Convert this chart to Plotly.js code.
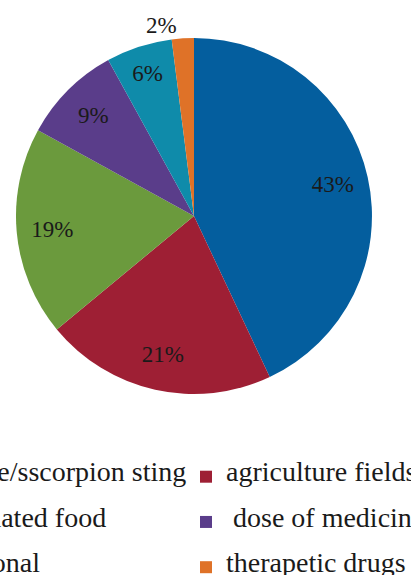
<!DOCTYPE html>
<html>
<head>
<meta charset="utf-8">
<script src="https://cdn.plot.ly/plotly-3.0.1.min.js"></script>
<style>
html, body { margin:0; padding:0; width:411px; height:575px; overflow:hidden; background:#fff; }
#chart { position:absolute; left:-150px; top:0; width:700px; height:575px; }
</style>
</head>
<body>
<div id="chart"></div>
<script>
var labels = ["snake bite/sscorpion sting", "agriculture fields", "contaminated food", "\u00a0dose of medicine", "occupational", "therapetic drugs"];
var values = [43, 21, 19, 9, 6, 2];
var colors = ["#045E9E", "#9E1F34", "#6B9A3D", "#5A3D8A", "#0F8BAA", "#DF7228"];
var textPositions = ["inside", "inside", "inside", "inside", "inside", "outside"];

var serif = "Liberation Serif, Times New Roman, serif";
var legendLabels = labels.map(function (s) {
  return '<span style="font-size:28px;baseline-shift:8px">' + s + '</span>';
});
var pieDomain = { x: [0.2371, 0.7457], y: [0.3148, 0.9339] };
var txtFont = { family: serif, size: 23, color: "#1a1a1a" };

// visible pie (slices + legend)
var pie = {
  type: "pie",
  labels: legendLabels,
  values: values,
  sort: false,
  direction: "clockwise",
  rotation: 0,
  marker: { colors: colors, line: { width: 0 } },
  textinfo: "none",
  hoverinfo: "none",
  domain: pieDomain
};

// same data as a transparent ring, only used to place the percentage labels
var labelRing = {
  type: "pie",
  labels: legendLabels,
  values: values,
  sort: false,
  direction: "clockwise",
  rotation: 0,
  hole: 0.6,
  showlegend: false,
  marker: { colors: colors.map(function () { return "rgba(0,0,0,0)"; }), line: { width: 0 } },
  texttemplate: "%{value}%",
  textposition: textPositions,
  insidetextorientation: "horizontal",
  textfont: txtFont,
  insidetextfont: txtFont,
  outsidetextfont: txtFont,
  hoverinfo: "none",
  domain: pieDomain
};

var layout = {
  width: 700,
  height: 575,
  margin: { l: 0, r: 0, t: 0, b: 0, autoexpand: false },
  paper_bgcolor: "#ffffff",
  showlegend: true,
  legend: {
    orientation: "h",
    x: 0.01,
    xanchor: "left",
    y: 0.219,
    yanchor: "top",
    entrywidth: 284,
    entrywidthmode: "pixels",
    font: { family: serif, size: 32.5, color: "#1a1a1a" },
    traceorder: "normal",
    bgcolor: "rgba(0,0,0,0)"
  }
};

Plotly.newPlot("chart", [pie, labelRing], layout, { displayModeBar: false, staticPlot: true });
</script>
</body>
</html>
